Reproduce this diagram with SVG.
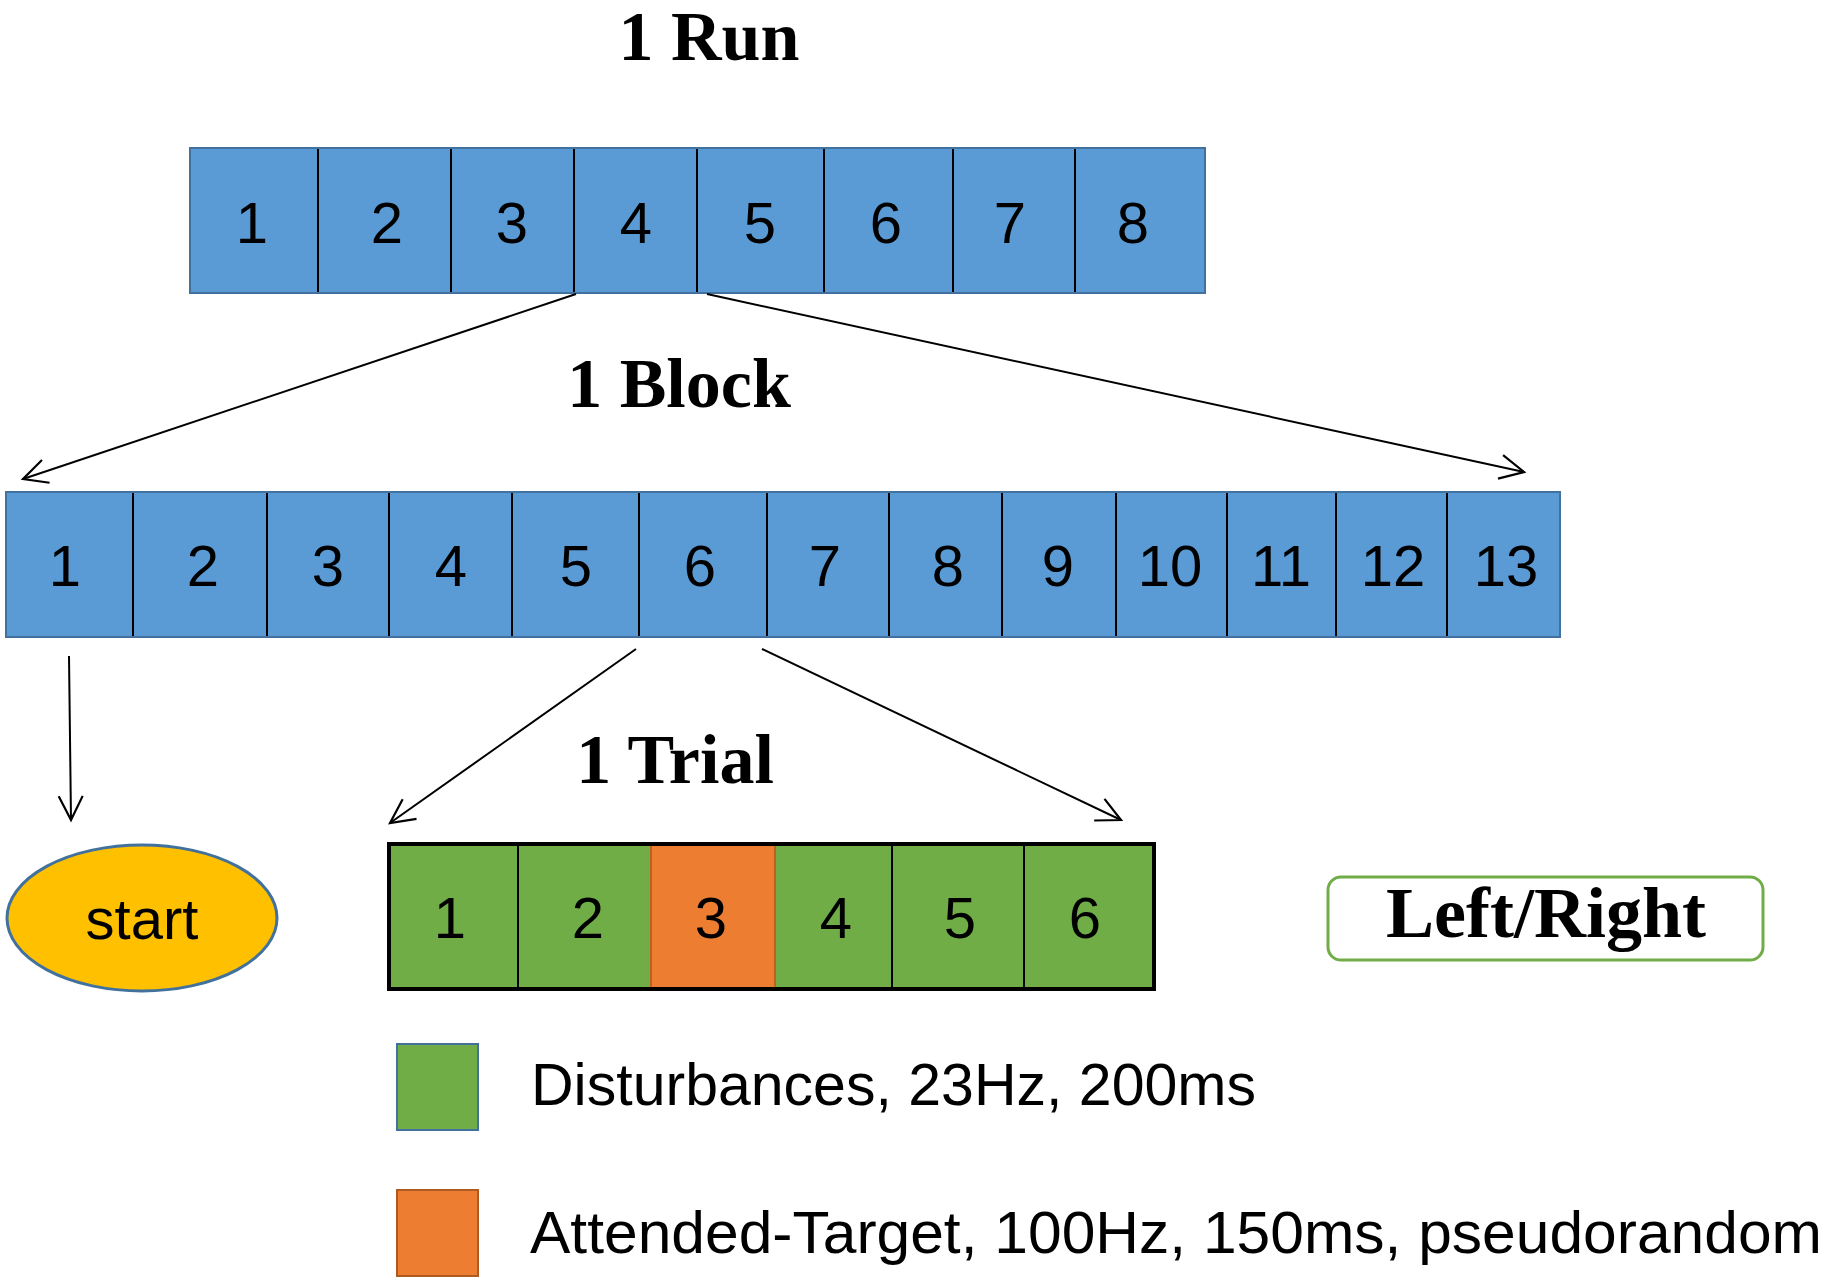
<svg xmlns="http://www.w3.org/2000/svg" width="1827" height="1283" viewBox="0 0 1827 1283">
<defs>
<style>
.title{font-family:"Liberation Serif",serif;font-weight:bold;font-size:70px;fill:#000;text-anchor:middle}
.num{font-family:"Liberation Sans",Arial,sans-serif;font-size:58px;fill:#000;text-anchor:middle}
.leg{font-family:"Liberation Sans",Arial,sans-serif;font-size:59px;fill:#000}
.blue{fill:#5B9BD5;stroke:none}
.green{fill:#70AD47;stroke:none}
.div{stroke:#000;stroke-width:2}
.conn{stroke:#000;stroke-width:2;fill:none;marker-end:url(#arr)}
</style>
<marker id="arr" markerUnits="userSpaceOnUse" markerWidth="30" markerHeight="30" refX="26" refY="15" orient="auto" viewBox="0 0 30 30">
<path d="M2,3 L26,15 L2,27" fill="none" stroke="#000" stroke-width="2.2"/>
</marker>
</defs>
<rect width="1827" height="1283" fill="#fff"/>

<text class="title" x="709" y="60">1 Run</text>
<text class="title" x="679" y="407">1 Block</text>
<text class="title" x="675" y="783">1 Trial</text>

<g id="run-bar">
<rect x="190" y="148" width="1015" height="145" class="blue"/>
<g id="run-1"><text class="num" x="252" y="243">1</text></g>
<g id="run-2"><text class="num" x="387" y="243">2</text></g>
<g id="run-3"><text class="num" x="512" y="243">3</text></g>
<g id="run-4"><text class="num" x="636" y="243">4</text></g>
<g id="run-5"><text class="num" x="760" y="243">5</text></g>
<g id="run-6"><text class="num" x="886" y="243">6</text></g>
<g id="run-7"><text class="num" x="1010" y="243">7</text></g>
<g id="run-8"><text class="num" x="1133" y="243">8</text></g>
<path class="div" d="M318,148V293M451,148V293M574,148V293M697,148V293M824,148V293M953,148V293M1075,148V293"/>
<rect x="190" y="148" width="1015" height="145" fill="none" stroke="#41719C" stroke-width="2"/>
</g>

<g id="block-bar">
<rect x="6" y="492" width="1554" height="145" class="blue"/>
<g id="block-1"><text class="num" x="65" y="586">1</text></g>
<g id="block-2"><text class="num" x="203" y="586">2</text></g>
<g id="block-3"><text class="num" x="328" y="586">3</text></g>
<g id="block-4"><text class="num" x="451" y="586">4</text></g>
<g id="block-5"><text class="num" x="576" y="586">5</text></g>
<g id="block-6"><text class="num" x="700" y="586">6</text></g>
<g id="block-7"><text class="num" x="825" y="586">7</text></g>
<g id="block-8"><text class="num" x="948" y="586">8</text></g>
<g id="block-9"><text class="num" x="1058" y="586">9</text></g>
<g id="block-10"><text class="num" x="1170" y="586">10</text></g>
<g id="block-11"><text class="num" x="1281" y="586">11</text></g>
<g id="block-12"><text class="num" x="1393" y="586">12</text></g>
<g id="block-13"><text class="num" x="1506" y="586">13</text></g>
<path class="div" d="M133,492V637M267,492V637M389,492V637M512,492V637M639,492V637M767,492V637M889,492V637M1002,492V637M1116,492V637M1227,492V637M1336,492V637M1447,492V637"/>
<rect x="6" y="492" width="1554" height="145" fill="none" stroke="#41719C" stroke-width="2"/>
</g>

<g id="trial-bar">
<rect x="389" y="844" width="765" height="145" class="green"/>
<g id="trial-1"><text class="num" x="450" y="938">1</text></g>
<g id="trial-2"><text class="num" x="588" y="938">2</text></g>
<g id="trial-3"><rect x="651" y="845" width="124" height="145" fill="#ED7D31" stroke="#C0601E" stroke-width="2"/><text class="num" x="711" y="938">3</text></g>
<g id="trial-4"><text class="num" x="836" y="938">4</text></g>
<g id="trial-5"><text class="num" x="960" y="938">5</text></g>
<g id="trial-6"><text class="num" x="1085" y="938">6</text></g>
<path class="div" d="M518,844V989M892,844V989M1024,844V989"/>
<rect x="389" y="844" width="765" height="145" fill="none" stroke="#000" stroke-width="4"/>
</g>

<g id="start">
<ellipse cx="142" cy="918" rx="135" ry="73" fill="#FFC000" stroke="#41719C" stroke-width="3"/>
<text class="num" x="142" y="939">start</text>
</g>

<g id="left-right">
<rect x="1328" y="877" width="435" height="83" rx="13" ry="13" fill="#fff" stroke="#70AD47" stroke-width="3"/>
<text class="title" x="1546" y="937" style="font-size:72px">Left/Right</text>
</g>

<g id="legend-disturbance">
<rect x="397" y="1044" width="81" height="86" fill="#70AD47" stroke="#41719C" stroke-width="2"/>
<text class="leg" x="531" y="1105" textLength="725" lengthAdjust="spacingAndGlyphs">Disturbances, 23Hz, 200ms</text>
</g>
<g id="legend-target">
<rect x="397" y="1190" width="81" height="86" fill="#ED7D31" stroke="#AE5A21" stroke-width="2"/>
<text class="leg" x="530" y="1253" textLength="1292" lengthAdjust="spacingAndGlyphs">Attended-Target, 100Hz, 150ms, pseudorandom</text>
</g>

<g id="connectors">
<line class="conn" x1="576" y1="294" x2="23" y2="479"/>
<line class="conn" x1="707" y1="294" x2="1524" y2="472"/>
<line class="conn" x1="69" y1="656" x2="71" y2="820"/>
<line class="conn" x1="636" y1="649" x2="390" y2="823"/>
<line class="conn" x1="762" y1="649" x2="1121" y2="820"/>
</g>
</svg>
